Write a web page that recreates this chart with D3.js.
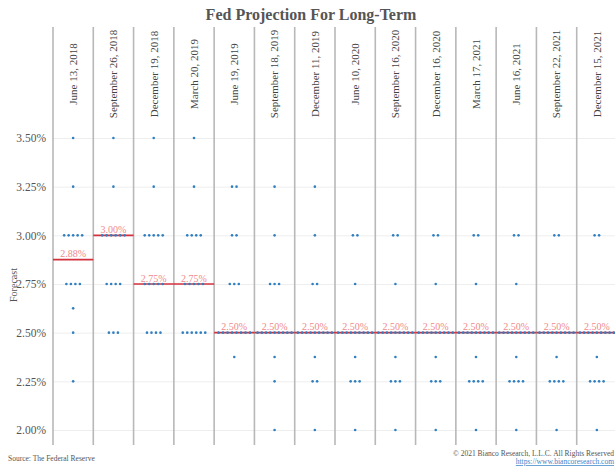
<!DOCTYPE html>
<html lang="en">
<head>
  <meta charset="utf-8" />
  <title>Fed Projection For Long-Term</title>
  <script src="https://cdn.jsdelivr.net/npm/d3@7"></script>
  <style>
    body { margin: 0; background: #fff; }
    text { font-family: "Liberation Serif", "DejaVu Serif", serif; }
  </style>
</head>
<body>
<script>
// Chart size
var width = 615,
    height = 466;

// FOMC meetings (one column each)
var meetings = ["June 13, 2018", "September 26, 2018", "December 19, 2018", "March 20, 2019",
  "June 19, 2019", "September 18, 2019", "December 11, 2019", "June 10, 2020",
  "September 16, 2020", "December 16, 2020", "March 17, 2021", "June 16, 2021",
  "September 22, 2021", "December 15, 2021"];

// Rate levels a dot can sit on
var rates = [3.5, 3.25, 3.0, 2.75, 2.625, 2.5, 2.375, 2.25, 2.0];

// Number of dots per rate level (same order as rates) for each meeting
var counts = [
  [1, 1, 5, 4, 1, 1, 0, 1, 0],
  [1, 1, 6, 4, 0, 3, 0, 0, 0],
  [1, 1, 5, 5, 0, 4, 0, 0, 0],
  [1, 1, 4, 5, 0, 6, 0, 0, 0],
  [0, 2, 2, 3, 0, 8, 1, 0, 0],
  [0, 1, 1, 3, 0, 9, 1, 1, 1],
  [0, 1, 1, 2, 0, 9, 1, 2, 1],
  [0, 0, 2, 1, 0, 9, 1, 3, 1],
  [0, 0, 2, 1, 0, 9, 1, 3, 1],
  [0, 0, 2, 1, 0, 9, 1, 3, 1],
  [0, 0, 2, 1, 0, 9, 1, 4, 1],
  [0, 0, 2, 1, 0, 9, 1, 4, 1],
  [0, 0, 2, 0, 0, 9, 1, 4, 1],
  [0, 0, 2, 0, 0, 9, 1, 4, 1]
];

var yTicks = [2.0, 2.25, 2.5, 2.75, 3.0, 3.25, 3.5];

var svg = d3.select("body")
  .append("svg")
  .attr("width", width)
  .attr("height", height);

var x = d3.scaleBand()
  .domain(meetings)
  .range([53, 617]);

var y = d3.scaleLinear()
  .domain([2.0, 3.5])
  .range([430, 138]);

var plotBottom = 445;

// Title
svg.append("text")
  .attr("x", 311)
  .attr("y", 20)
  .attr("text-anchor", "middle")
  .attr("font-size", "16px")
  .attr("font-weight", "bold")
  .attr("fill", "#555")
  .text("Fed Projection For Long-Term");

// Horizontal gridlines
svg.append("g")
  .attr("transform", "translate(53,0)")
  .call(d3.axisLeft(y).tickValues(yTicks).tickSize(-(width - 53)).tickFormat(""))
  .call(g => g.select(".domain").remove())
  .call(g => g.selectAll("line").attr("stroke", "#eeeeee"));

// Y axis labels
svg.append("g")
  .attr("transform", "translate(49,0)")
  .call(d3.axisLeft(y).tickValues(yTicks).tickSize(0).tickFormat(d => d3.format(".2f")(d) + "%"))
  .call(g => g.select(".domain").remove())
  .call(g => g.selectAll("text")
    .attr("font-family", "Liberation Serif, serif")
    .attr("font-size", "11.5px")
    .attr("fill", "#555"));

svg.append("text")
  .attr("transform", "translate(17,285) rotate(-90)")
  .attr("text-anchor", "middle")
  .attr("font-size", "10px")
  .attr("fill", "#555")
  .text("Forecast");

// Column separators
svg.append("g").selectAll("line")
  .data(meetings.concat(["end"]))
  .join("line")
  .attr("x1", (d, i) => x.range()[0] + i * x.bandwidth())
  .attr("x2", (d, i) => x.range()[0] + i * x.bandwidth())
  .attr("y1", 27)
  .attr("y2", plotBottom)
  .attr("stroke", "#b8b8b8")
  .attr("stroke-width", 1.6);

// Column headers
svg.append("g").selectAll("text")
  .data(meetings)
  .join("text")
  .attr("transform", d => "translate(" + (x(d) + x.bandwidth() / 2) + ",74) rotate(-90)")
  .attr("text-anchor", "middle")
  .attr("dy", "0.35em")
  .attr("font-size", "11px")
  .attr("fill", "#444")
  .text(d => d);

// Expand counts into one dot per participant
var columns = meetings.map(function(m, i) {
  var values = [];
  var dots = [];
  rates.forEach(function(r, j) {
    var n = counts[i][j];
    var step = n > 1 ? Math.min(4.5, 34 / (n - 1)) : 0;
    for (var k = 0; k < n; k++) {
      values.push(r);
      dots.push({ meeting: m, rate: r, offset: (k - (n - 1) / 2) * step });
    }
  });
  return { meeting: m, median: d3.median(values), dots: dots };
});

// Median lines and labels
var med = svg.append("g").selectAll("g")
  .data(columns)
  .join("g");

med.append("line")
  .attr("x1", d => x(d.meeting))
  .attr("x2", d => x(d.meeting) + x.bandwidth())
  .attr("y1", d => y(d.median))
  .attr("y2", d => y(d.median))
  .attr("stroke", "#d3323d")
  .attr("stroke-width", 1.6);

med.append("text")
  .attr("x", d => x(d.meeting) + x.bandwidth() / 2)
  .attr("y", d => y(d.median) - 2.5)
  .attr("text-anchor", "middle")
  .attr("font-size", "10px")
  .attr("fill", "#f08a8a")
  .text(d => d3.format(".2f")(d.median) + "%");

// Dots
svg.append("g").selectAll("circle")
  .data(columns.flatMap(c => c.dots))
  .join("circle")
  .attr("cx", d => x(d.meeting) + x.bandwidth() / 2 + d.offset)
  .attr("cy", d => y(d.rate))
  .attr("r", 1.3)
  .attr("fill", "#2f7fc1");

// Footer
svg.append("text")
  .attr("x", 8)
  .attr("y", 461)
  .attr("font-size", "7.5px")
  .attr("fill", "#555")
  .text("Source: The Federal Reserve");

svg.append("text")
  .attr("x", 614)
  .attr("y", 456)
  .attr("text-anchor", "end")
  .attr("font-size", "7.5px")
  .attr("fill", "#555")
  .text("© 2021 Bianco Research, L.L.C. All Rights Reserved");

svg.append("text")
  .attr("x", 614)
  .attr("y", 464)
  .attr("text-anchor", "end")
  .attr("font-size", "7.5px")
  .attr("fill", "#3a86c8")
  .attr("text-decoration", "underline")
  .text("https://www.biancoresearch.com");
</script>
</body>
</html>
